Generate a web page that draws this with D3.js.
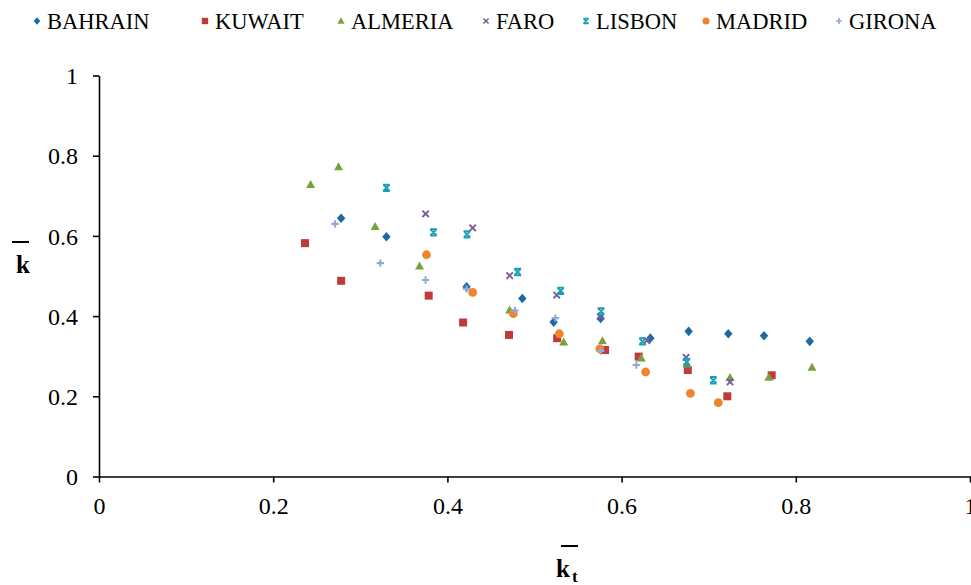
<!DOCTYPE html>
<html>
<head>
<meta charset="utf-8">
<script src="https://cdn.jsdelivr.net/npm/d3@7"></script>
<style>
  html, body { margin: 0; padding: 0; background: #fff; }
  svg { display: block; }
</style>
</head>
<body>
<svg id="chart" width="971" height="585"></svg>
<script>
// ---- Data ----
const seriesNames = ["BAHRAIN", "KUWAIT", "ALMERIA", "FARO", "LISBON", "MADRID", "GIRONA"];

const bahrainKt = [0.278, 0.330, 0.422, 0.486, 0.522, 0.576, 0.633, 0.677, 0.7225, 0.7635, 0.816];
const bahrainK  = [0.644, 0.598, 0.473, 0.444, 0.385, 0.394, 0.345, 0.362, 0.356, 0.351, 0.337];

const kuwaitKt = [0.2365, 0.278, 0.3785, 0.418, 0.4707, 0.526, 0.581, 0.6196, 0.676, 0.7214, 0.7723];
const kuwaitK  = [0.582, 0.488, 0.451, 0.384, 0.353, 0.345, 0.3155, 0.299, 0.2656, 0.200, 0.2524];

const almeriaKt = [0.243, 0.275, 0.317, 0.368, 0.4715, 0.5335, 0.578, 0.6226, 0.675, 0.7245, 0.769, 0.8186];
const almeriaK  = [0.728, 0.772, 0.623, 0.525, 0.415, 0.335, 0.338, 0.295, 0.280, 0.2464, 0.2474, 0.272];

const faroKt = [0.375, 0.429, 0.4715, 0.5255, 0.5756, 0.629, 0.674, 0.7245];
const faroK  = [0.655, 0.620, 0.501, 0.4526, 0.3985, 0.339, 0.297, 0.2357];

const lisbonKt = [0.330, 0.384, 0.4225, 0.4806, 0.530, 0.5764, 0.624, 0.6747, 0.7053];
const lisbonK  = [0.720, 0.609, 0.604, 0.510, 0.463, 0.412, 0.337, 0.2855, 0.240];

const madridKt = [0.376, 0.429, 0.4757, 0.5285, 0.575, 0.6276, 0.679, 0.711];
const madridK  = [0.553, 0.459, 0.406, 0.356, 0.318, 0.2606, 0.2075, 0.184];

const gironaKt = [0.271, 0.323, 0.375, 0.422, 0.4776, 0.524, 0.576, 0.617];
const gironaK  = [0.630, 0.532, 0.490, 0.468, 0.414, 0.395, 0.313, 0.278];

const xTicks = [0, 0.2, 0.4, 0.6, 0.8, 1];
const yTicks = [0, 0.2, 0.4, 0.6, 0.8, 1];
const xTickLabels = ["0", "0.2", "0.4", "0.6", "0.8", "1"];
const yTickLabels = ["0", "0.2", "0.4", "0.6", "0.8", "1"];

// ---- Styles ----
const FONT = '"Liberation Serif"';
const colors = {
  BAHRAIN: "#1a6aa6",
  KUWAIT:  "#c0393b",
  ALMERIA: "#77a23a",
  FARO:    "#7a5a9c",
  LISBON:  "#1b9db5",
  MADRID:  "#f0852c",
  GIRONA:  "#8faad9"
};
const shapes = {
  BAHRAIN: "M0,-4.8L4.2,0L0,4.8L-4.2,0Z",
  KUWAIT:  "M-4,-4H4V4H-4Z",
  ALMERIA: "M0,-4.6L4.5,3.4H-4.5Z",
  FARO:    "M-3.2,-3.2L3.2,3.2M3.2,-3.2L-3.2,3.2",
  LISBON:  "M-3.2,-3.2L3.2,3.2M3.2,-3.2L-3.2,3.2M-3.4,-3.2H3.4M-3.4,3.2H3.4",
  MADRID:  null,
  GIRONA:  "M-3.7,0H3.7M0,-3.7V3.7"
};
const strokeShapes = { FARO: 1.9, LISBON: 1.9, GIRONA: 2.1 };

const data = {
  BAHRAIN: bahrainKt.map((x, i) => ({ x, y: bahrainK[i] })),
  KUWAIT:  kuwaitKt.map((x, i) => ({ x, y: kuwaitK[i] })),
  ALMERIA: almeriaKt.map((x, i) => ({ x, y: almeriaK[i] })),
  FARO:    faroKt.map((x, i) => ({ x, y: faroK[i] })),
  LISBON:  lisbonKt.map((x, i) => ({ x, y: lisbonK[i] })),
  MADRID:  madridKt.map((x, i) => ({ x, y: madridK[i] })),
  GIRONA:  gironaKt.map((x, i) => ({ x, y: gironaK[i] }))
};

const svg = d3.select("#chart");
const plotLeft = 99, plotRight = 970, plotTop = 75.5, plotBottom = 476.5;

const x = d3.scaleLinear().domain([0, 1]).range([plotLeft, plotRight]);
const y = d3.scaleLinear().domain([0, 1]).range([plotBottom, plotTop]);

function drawMarker(g, name) {
  const c = colors[name];
  if (name === "MADRID") {
    g.append("circle").attr("r", 4.4).attr("fill", c);
  } else if (strokeShapes[name]) {
    g.append("path").attr("d", shapes[name]).attr("fill", "none")
      .attr("stroke", c).attr("stroke-width", strokeShapes[name]);
  } else {
    g.append("path").attr("d", shapes[name]).attr("fill", c);
  }
}

// Axes
const xAxis = svg.append("g")
  .attr("transform", `translate(0,${plotBottom})`)
  .call(d3.axisBottom(x).tickValues(xTicks)
    .tickFormat((d, i) => xTickLabels[i]).tickSize(6).tickSizeOuter(0));
const yAxis = svg.append("g")
  .attr("transform", `translate(${plotLeft},0)`)
  .call(d3.axisLeft(y).tickValues(yTicks)
    .tickFormat((d, i) => yTickLabels[i]).tickSize(6).tickSizeOuter(0));

[xAxis, yAxis].forEach(a => {
  a.attr("font-family", null).attr("font-size", null);
  a.select(".domain").attr("stroke", "#000").attr("stroke-width", 1.6);
  a.selectAll(".tick line").attr("stroke", "#000").attr("stroke-width", 1.6);
  a.selectAll(".tick text").style("font-family", FONT)
    .style("font-size", "24px").attr("fill", "#000");
});
xAxis.selectAll(".tick text").attr("dy", null).attr("y", 37);
yAxis.selectAll(".tick text").attr("dy", "0.34em").attr("x", -21);

// Points
seriesNames.forEach(name => {
  const g = svg.append("g").attr("class", "series");
  data[name].forEach(d => {
    const m = g.append("g").attr("transform", `translate(${x(d.x)},${y(d.y)})`);
    drawMarker(m, name);
  });
});

// Legend
const legendMarkerX = [37, 205, 341, 486, 586, 706, 839];
seriesNames.forEach((name, i) => {
  const g = svg.append("g").attr("transform", `translate(${legendMarkerX[i]},21)`);
  const m = g.append("g").attr("transform", "scale(0.8)");
  drawMarker(m, name);
  g.append("text").attr("x", 10).attr("y", 7.5)
    .style("font-family", FONT).style("font-size", "22.5px").text(name);
});

// Axis titles
const ytG = svg.append("g");
ytG.append("text").attr("x", 16).attr("y", 273)
  .style("font-family", FONT).style("font-size", "25px").style("font-weight", "bold").text("k");
ytG.append("line").attr("x1", 12).attr("x2", 29).attr("y1", 242).attr("y2", 242)
  .attr("stroke", "#000").attr("stroke-width", 2);

const xtG = svg.append("g");
xtG.append("text").attr("x", 556).attr("y", 577)
  .style("font-family", FONT).style("font-size", "25px").style("font-weight", "bold").text("k");
xtG.append("text").attr("x", 572).attr("y", 582)
  .style("font-family", FONT).style("font-size", "17px").style("font-weight", "bold").text("t");
xtG.append("line").attr("x1", 561).attr("x2", 578).attr("y1", 546).attr("y2", 546)
  .attr("stroke", "#000").attr("stroke-width", 2);
</script>
</body>
</html>
